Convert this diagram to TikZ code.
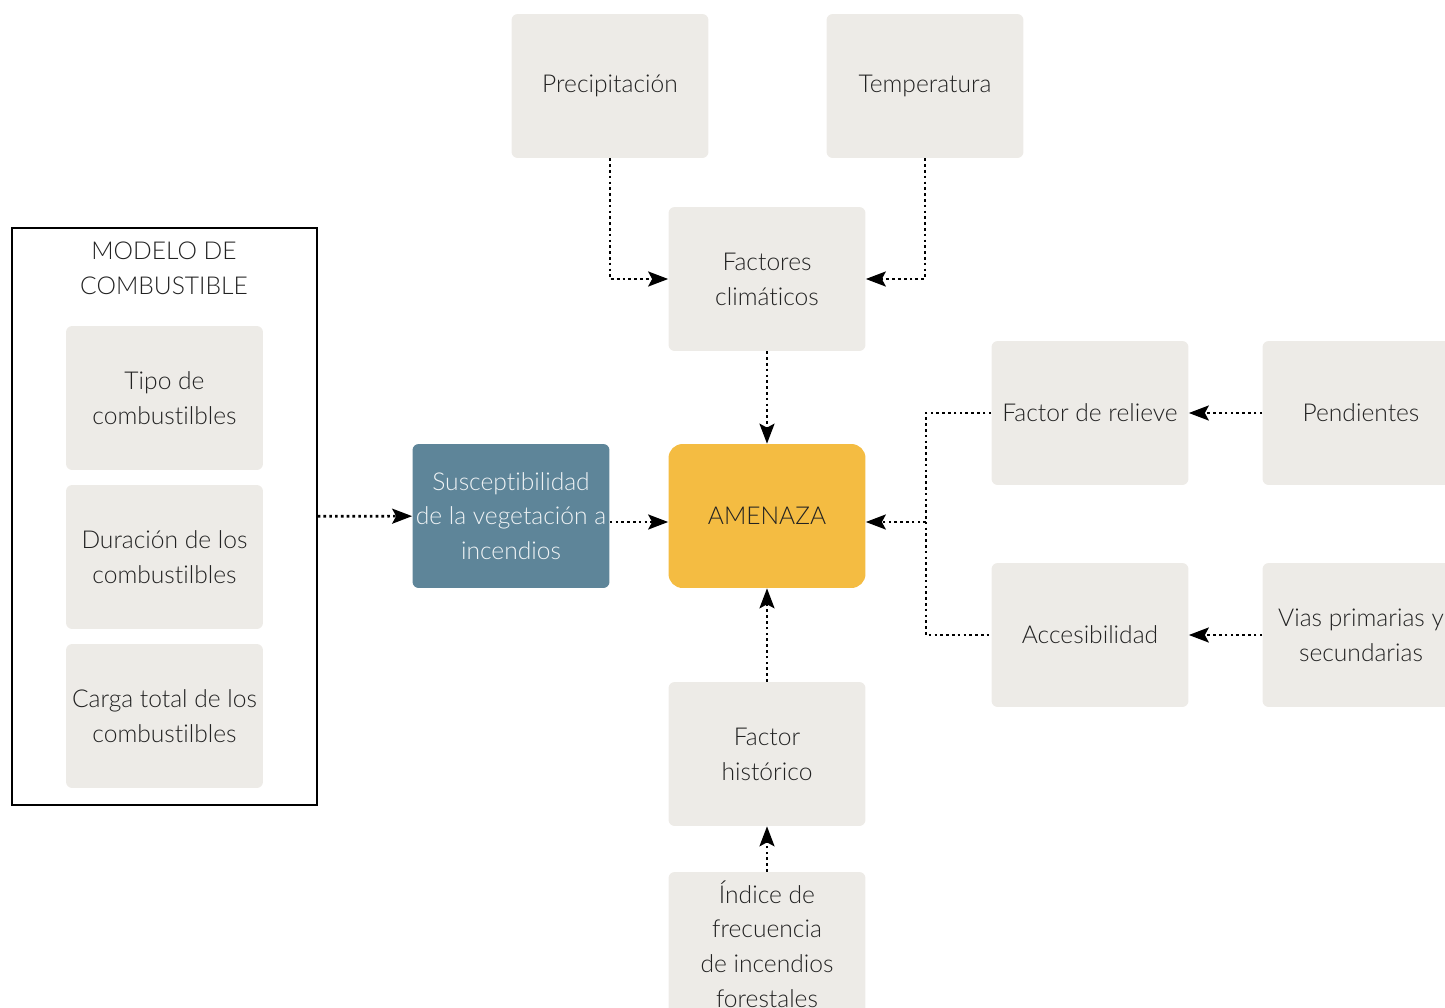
\documentclass[tikz,border=0pt]{standalone}
\usepackage{fontspec}
\setmainfont{Lato Light}[Ligatures=NoCommon]
\usetikzlibrary{arrows.meta, positioning}
\definecolor{boxgray}{HTML}{EDEBE7}
\definecolor{amber}{HTML}{F4BC42}
\definecolor{slate}{HTML}{5E8599}
\definecolor{ink}{HTML}{222222}

\begin{document}
\begin{tikzpicture}[x=0.02cm, y=-0.02cm, font=\fontsize{14}{19.8}\selectfont]
    \tikzstyle{factor} = [rectangle, fill=boxgray, text=ink, minimum width=3.94cm, minimum height=2.88cm, align=center, rounded corners=3.5pt, inner sep=1pt]
    \tikzstyle{link} = [line width=1.5pt, dash pattern=on 1.5pt off 1.8pt, -{Stealth[length=0.4cm, width=0.3cm, inset=0.08cm]}]
    \tikzstyle{joint} = [line width=1.5pt, dash pattern=on 1.5pt off 1.8pt]

    \useasboundingbox (0,0) rectangle (1445,1008);
    \clip (0,0) rectangle (1445,1008);

    % factores
    \node (precip) [factor] at (610,86) {Precipitación};
    \node (temp) [factor] at (925,86) {Temperatura};
    \node (clima) [factor] at (767,279) {Factores\\climáticos};
    \node (amenaza) [factor, fill=amber, rounded corners=8pt] at (767,516) {AMENAZA};
    \node (suscep) [factor, fill=slate, text=white!90!slate] at (511,516) {Susceptibilidad\\de la vegetación a\\incendios};
    \node (relieve) [factor] at (1090,413) {Factor de relieve};
    \node (pend) [factor] at (1361,413) {Pendientes};
    \node (acces) [factor] at (1090,635) {Accesibilidad};
    \node (vias) [factor] at (1361,635) {Vias primarias y\\secundarias};
    \node (hist) [factor] at (767,754) {Factor\\histórico};
    \node (indice) [factor] at (767,944) {Índice de\\frecuencia\\de incendios\\forestales};

    % modelo de combustible
    \node (modelo) [rectangle, draw, line width=0.8pt, minimum width=6.1cm, minimum height=11.54cm] at (164.5,516.5) {};
    \node (modelotitle) [text=ink, align=center] at (164,268) {MODELO DE\\COMBUSTIBLE};
    \node (tipo) [factor] at (164.5,398) {Tipo de\\combustilbles};
    \node (duracion) [factor] at (164.5,557) {Duración de los\\combustilbles};
    \node (carga) [factor] at (164.5,716) {Carga total de los\\combustilbles};

    \coordinate (junction) at (926,522);

    \draw [link] (precip.south) |- (clima.west);
    \draw [link] (temp.south) |- (clima.east);
    \draw [link] (clima) -- (amenaza);
    \draw [link] (pend) -- (relieve);
    \draw [link] (vias) -- (acces);
    \draw [joint] (relieve.west) -| (junction) |- (acces.west);
    \draw [link] (junction) -- (amenaza.east |- junction);
    \draw [link] (modelo) -- (suscep);
    \draw [link] (suscep.east |- junction) -- (amenaza.west |- junction);
    \draw [link] (hist) -- (amenaza);
    \draw [link] (indice) -- (hist);
\end{tikzpicture}
\end{document}
